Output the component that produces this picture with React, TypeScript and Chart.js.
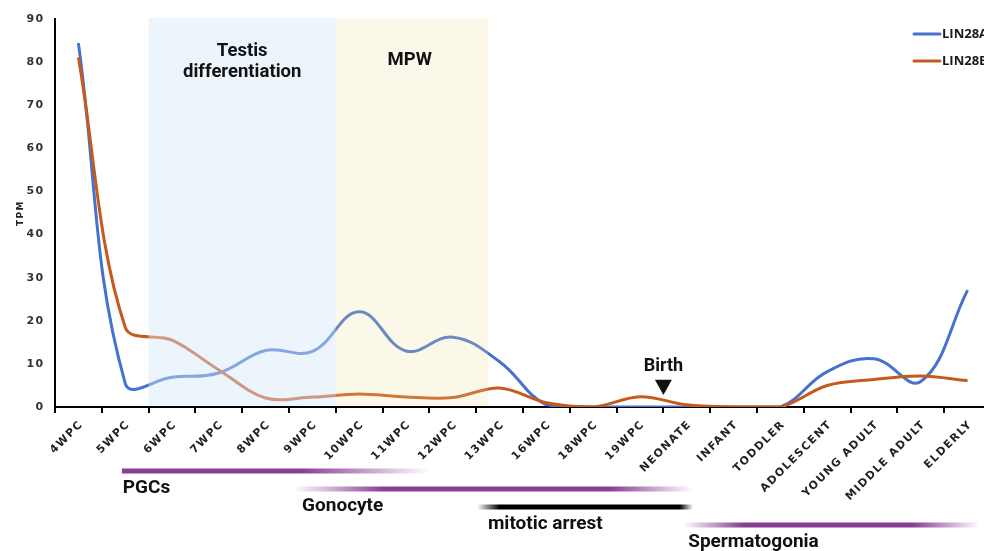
import React, { useEffect, useRef } from 'react';
import { Chart, registerables } from 'chart.js';

Chart.register(...registerables);

// ---- data ----
const categories = [
  '4WPC', '5WPC', '6WPC', '7WPC', '8WPC', '9WPC', '10WPC', '11WPC', '12WPC', '13WPC',
  '16WPC', '18WPC', '19WPC', 'NEONATE', 'INFANT', 'TODDLER', 'ADOLESCENT', 'YOUNG ADULT',
  'MIDDLE ADULT', 'ELDERLY',
];
const lin28a = [84.4, 5.5, 6.9, 7.9, 13.1, 12.9, 22.1, 13.0, 16.2, 10.5, 0.5, 0, 0, 0, 0, 0, 8.2, 11.2, 5.9, 27.1];
const lin28b = [81.1, 18.5, 15.5, 8.6, 2.1, 2.3, 3.0, 2.3, 2.2, 4.4, 1.0, 0, 2.4, 0.5, 0, 0, 5.0, 6.4, 7.2, 6.1];
const seriesNames = ['LIN28A', 'LIN28B'];
const yTicks = [0, 10, 20, 30, 40, 50, 60, 70, 80, 90];

// shaded periods (category index units)
const periodNames = ['Testis\ndifferentiation', 'MPW'];
const periodFrom = [1.5, 5.5];
const periodTo = [5.5, 8.75];
const periodLabelAt = [3.5, 7.08];
const periodLabelValue = [80, 80.3];

// cell phases under the axis (category index units)
const phaseNames = ['PGCs', 'Gonocyte', 'mitotic arrest', 'Spermatogonia'];
const phaseFrom = [0.93, 4.59, 8.52, 12.92];
const phaseSolidFrom = [0.93, 6.55, 9.0, 14.2];
const phaseSolidTo = [4.74, 11.36, 12.85, 17.83];
const phaseTo = [7.51, 13.13, 13.13, 19.26];
const phaseLabelAt = [0.95, 4.78, 8.75, 13.03];

// birth marker
const birthAt = 12.5;
const birthLabel = 'Birth';

const BLUE = '#4472CE';
const ORANGE = '#C65A1E';
const PURPLE_RGB = [138, 61, 149];
const BLACK_RGB = [0, 0, 0];
const phaseRgb = [PURPLE_RGB, PURPLE_RGB, BLACK_RGB, PURPLE_RGB];

const periodColors = ['rgba(212,230,248,0.45)', 'rgba(236,222,160,0.22)'];
const LABEL_FONT = 'Roboto, "Noto Sans", sans-serif';

const spacingPlugin = {
  id: 'spacing',
  beforeDraw(chart: any) {
    chart.ctx.letterSpacing = '1.4px';
  },
  beforeDatasetsDraw(chart: any) {
    chart.ctx.letterSpacing = '0px';
  },
};

const annotationPlugin = {
  id: 'annotations',
  afterDatasetsDraw(chart: any) {
    const { ctx, chartArea } = chart;
    const x = chart.scales.x;
    const y = chart.scales.y;
    ctx.save();
    ctx.letterSpacing = '0px';
    // shaded periods drawn over the lines
    periodNames.forEach((name, i) => {
      const x0 = x.getPixelForValue(periodFrom[i]);
      const x1 = x.getPixelForValue(periodTo[i]);
      ctx.fillStyle = periodColors[i];
      ctx.fillRect(x0, chartArea.top - 1, x1 - x0, chartArea.bottom - 1 - (chartArea.top - 1));
    });
    ctx.fillStyle = '#111';
    ctx.font = `bold 18.5px ${LABEL_FONT}`;
    ctx.textAlign = 'center';
    ctx.textBaseline = 'middle';
    periodNames.forEach((name, i) => {
      const lines = name.split('\n');
      const cx = x.getPixelForValue(periodLabelAt[i]);
      const cy = y.getPixelForValue(periodLabelValue[i]);
      lines.forEach((ln, j) => {
        ctx.fillText(ln, cx, cy + (j - (lines.length - 1) / 2) * 21);
      });
    });
    // birth marker
    const bx = x.getPixelForValue(birthAt);
    ctx.font = `bold 18px ${LABEL_FONT}`;
    ctx.fillText(birthLabel, bx, y.getPixelForValue(9.3));
    const tTop = y.getPixelForValue(6.3);
    const tBot = y.getPixelForValue(2.8);
    ctx.beginPath();
    ctx.moveTo(bx - 8.5, tTop);
    ctx.lineTo(bx + 8.5, tTop);
    ctx.lineTo(bx, tBot);
    ctx.closePath();
    ctx.fill();
    ctx.restore();
  },
  afterDraw(chart: any) {
    const { ctx, chartArea } = chart;
    const x = chart.scales.x;
    ctx.save();
    ctx.letterSpacing = '0px';
    // legend
    ctx.font = `bold 13px "Open Sans", sans-serif`;
    ctx.textAlign = 'left';
    ctx.textBaseline = 'middle';
    chart.data.datasets.forEach((ds: any, i: number) => {
      const ly = chartArea.top + 15 + i * 27;
      ctx.strokeStyle = ds.borderColor;
      ctx.lineWidth = 3;
      ctx.lineCap = 'round';
      ctx.beginPath();
      ctx.moveTo(chartArea.right - 77, ly);
      ctx.lineTo(chartArea.right - 51, ly);
      ctx.stroke();
      ctx.fillStyle = '#1a1a1a';
      ctx.fillText(ds.label, chartArea.right - 49, ly + 0.5);
    });
    // phases
    phaseNames.forEach((name, i) => {
      const x0 = x.getPixelForValue(phaseFrom[i]);
      const x1 = x.getPixelForValue(phaseTo[i]);
      const s0 = x.getPixelForValue(phaseSolidFrom[i]);
      const s1 = x.getPixelForValue(phaseSolidTo[i]);
      const [r, g, b] = phaseRgb[i];
      const grad = ctx.createLinearGradient(x0, 0, x1, 0);
      const span = x1 - x0;
      grad.addColorStop(0, `rgba(${r},${g},${b},${s0 > x0 + 0.5 ? 0 : 1})`);
      grad.addColorStop((s0 - x0) / span, `rgba(${r},${g},${b},1)`);
      grad.addColorStop((s1 - x0) / span, `rgba(${r},${g},${b},1)`);
      grad.addColorStop(1, `rgba(${r},${g},${b},0)`);
      const by = chartArea.bottom + 64 + i * 18;
      ctx.fillStyle = grad;
      ctx.fillRect(x0, by - 2.5, span, 5);
      ctx.fillStyle = '#111';
      ctx.font = `bold 19px ${LABEL_FONT}`;
      ctx.fillText(name, x.getPixelForValue(phaseLabelAt[i]), by + 17.5);
    });
    ctx.restore();
  },
};

export default function App() {
  const ref = useRef<HTMLCanvasElement | null>(null);
  useEffect(() => {
    if (!ref.current) return;
    const chart = new Chart(ref.current, {
      type: 'line',
      data: {
        labels: categories,
        datasets: [
          {
            label: seriesNames[0],
            data: lin28a,
            borderColor: BLUE,
            backgroundColor: BLUE,
            borderWidth: 3,
            pointRadius: 0,
            tension: 0.4,
            fill: false,
            order: 1,
          },
          {
            label: seriesNames[1],
            data: lin28b,
            borderColor: ORANGE,
            backgroundColor: ORANGE,
            borderWidth: 3,
            pointRadius: 0,
            tension: 0.35,
            fill: false,
            order: 0,
          },
        ],
      },
      options: {
        animation: false,
        responsive: false,
        layout: { padding: { top: 19, right: 9, bottom: 0, left: 0 } },
        plugins: { legend: { display: false }, tooltip: { enabled: false } },
        scales: {
          x: {
            offset: true,
            grid: {
              offset: true,
              drawOnChartArea: false,
              drawTicks: true,
              tickLength: 6,
              color: '#000',
              lineWidth: 2,
            },
            border: { display: true, color: '#000', width: 2 },
            ticks: {
              autoSkip: false,
              minRotation: 45,
              maxRotation: 45,
              padding: 5,
              labelOffset: 3,
              color: '#222',
              font: { family: '"DejaVu Sans", sans-serif', size: 11, weight: 'bold' },
            },
            afterFit(scale: any) {
              scale.height = 144;
            },
          },
          y: {
            min: 0,
            max: 90,
            afterBuildTicks(scale: any) {
              scale.ticks = yTicks.map((v) => ({ value: v }));
            },
            grid: { drawOnChartArea: false, drawTicks: false },
            border: { display: true, color: '#000', width: 2 },
            ticks: {
              padding: 10.5,
              color: '#333',
              font: { family: '"DejaVu Sans", sans-serif', size: 11, weight: 'bold' },
            },
            title: {
              display: true,
              text: 'TPM',
              color: '#222',
              padding: { top: 15, bottom: 0 },
              font: { family: '"DejaVu Sans", sans-serif', size: 9, weight: 'bold' },
            },
            afterFit(scale: any) {
              scale.width = 55;
            },
          },
        },
      },
      plugins: [spacingPlugin, annotationPlugin],
    });
    return () => chart.destroy();
  }, []);
  return (
    <div
      style={{
        position: 'fixed',
        left: 0,
        top: 0,
        width: 984,
        height: 551,
        overflow: 'hidden',
        background: '#fff',
      }}
    >
      <canvas ref={ref} width={1000} height={551} style={{ display: 'block' }} />
    </div>
  );
}
